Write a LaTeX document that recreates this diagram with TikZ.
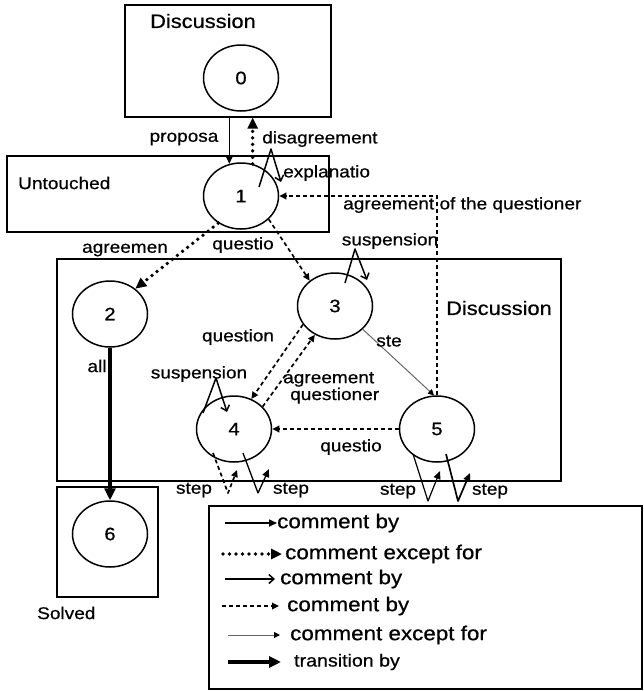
\documentclass[tikz,border=0pt]{standalone}
\usepackage{fontspec}
\setmainfont{Liberation Sans}[FakeStretch=1.12,FakeBold=0.6]
\usetikzlibrary{arrows.meta,shapes.geometric,calc}
\newcommand\lblfont{\fontsize{17}{19}\selectfont}
\newcommand\titlefont{\fontsize{19.5}{22}\selectfont}
\newcommand\numfont{\fontsize{18}{20}\selectfont}
\newcommand\legfont{\fontsize{20}{22}\selectfont}
\begin{document}
\begin{tikzpicture}[x=1pt,y=-1pt,
  state/.style={draw,ellipse,line width=1.5pt,minimum width=75pt,minimum height=66pt,inner sep=0pt,font=\numfont},
  area/.style={draw,line width=1.1pt,inner sep=0pt},
  lbl/.style={inner sep=0pt,font=\lblfont},
  ttl/.style={inner sep=0pt,anchor=west,font=\titlefont},
  legtxt/.style={inner sep=0pt,anchor=west,font=\legfont},
  cmt/.style={line width=1.6pt,-{Triangle[length=8pt,width=7pt]}},
  cmtb/.style={line width=1.5pt,line join=round,-{Straight Barb[length=5pt,width=9pt,line width=1.5pt]}},
  exc/.style={line width=3.8pt,line cap=round,dash pattern=on 0pt off 6.5pt,-{Triangle[length=11pt,width=10pt]}},
  dsh/.style={line width=1.7pt,dash pattern=on 4pt off 3pt,-{Triangle[length=7pt,width=6.5pt]}},
  thn/.style={line width=1pt,draw=black!60,-{Triangle[length=6pt,width=6pt,color=black]}},
  trn/.style={line width=4pt,-{Triangle[length=12pt,width=11pt]}},
]
\useasboundingbox (0,0) rectangle (644,691);

% group boxes
\node[area,minimum width=206pt,minimum height=112pt] (box0) at (228,61) {};
\node[area,minimum width=322pt,minimum height=76pt] (boxU) at (168,194) {};
\node[area,minimum width=504pt,minimum height=222pt] (boxD) at (309,370) {};
\node[area,minimum width=101pt,minimum height=110pt] (boxS) at (107.5,542) {};
\node[area,minimum width=433pt,minimum height=183pt] (boxL) at (425.5,597.5) {};

\node[ttl] (t0) at (150,21) {Discussion};
\node[ttl] (tD) at (446,308) {Discussion};
\node[lbl,anchor=west] (tU) at (18,183) {Untouched};
\node[lbl,anchor=west] (tS) at (37,613) {Solved};

% states
\node[state] (n0) at (241,78) {0};
\node[state] (n1) at (241,196) {1};
\node[state] (n2) at (110,314) {2};
\node[state] (n3) at (335,306) {3};
\node[state] (n4) at (234,429) {4};
\node[state] (n5) at (437,429) {5};
\node[state] (n6) at (110,534) {6};

% transitions
\draw[cmt] (box0.south -| n1.110) -- (n1.110);
\draw[exc] (n1.70) -- (box0.south -| n1.70);
\draw[cmtb] ($(n1)+(18,-9)$) -- ($(n1)+(30,-47)$) -- ($(n1)+(40,-14)$);
\draw[dsh] (n5.north) |- (n1.east);
\draw[exc] (n1.230) -- (n2.45);
\draw[dsh] (n1.-40) -- (n3.135);
\draw[cmtb] ($(n3)+(10,-23)$) -- ($(n3)+(20,-57)$) -- ($(n3)+(32,-26)$);
\draw[dsh] (n3.210) -- (n4.60);
\draw[dsh] (n4.38) -- (n3.-125);
\draw[cmtb] ($(n4)+(-31,-16)$) -- ($(n4)+(-18,-51)$) -- ($(n4)+(-7,-17)$);
\draw[dsh] (n5.west) -- (n4.east);
\draw[thn] (n3.-40) -- (n5.95);
\draw[trn] (n2.south) -- (n6.north);
\draw[dsh,line join=round] ($(n4)+(-21,24)$) -- ($(n4)+(-6,64)$) -- ($(n4)+(3,41)$);
\draw[cmt,line width=1.3pt,line join=round] ($(n4)+(9,24)$) -- ($(n4)+(24,64)$) -- ($(n4)+(35,40)$);
\draw[cmt,line width=1.2pt,line join=round] ($(n5)+(-24,25)$) -- ($(n5)+(-9,72)$) -- ($(n5)+(3,42)$);
\draw[cmt,line width=1.7pt,line join=round] ($(n5)+(9,25)$) -- ($(n5)+(21,72)$) -- ($(n5)+(33,44)$);

% transition labels
\node[lbl] (lp) at (184,139) {proposa};
\node[lbl,anchor=west] (ld) at (262,139) {disagreement};
\node[lbl,anchor=west] (le) at (283,173) {explanatio};
\node[lbl,anchor=west] (laq) at (343,205) {agreement of the questioner};
\node[lbl] (la) at (125,250) {agreemen};
\node[lbl] (lq1) at (243,245) {questio};
\node[lbl] (ls3) at (390,241) {suspension};
\node[lbl] (lq3) at (238,337) {question};
\node[lbl] (lst) at (389,341) {ste};
\node[lbl] (ls4) at (199,374) {suspension};
\node[lbl,anchor=north west,align=left,font=\fontsize{17}{14}\selectfont] (lag) at (283,372)
  {agreement\\\hspace*{7pt}questioner};
\node[lbl] (lq5) at (351,447) {questio};
\node[lbl] (lall) at (97,366) {all};
\node[lbl] (ls4a) at (194,490) {step};
\node[lbl] (ls4b) at (291,490) {step};
\node[lbl] (ls5a) at (398,491) {step};
\node[lbl] (ls5b) at (490,491) {step};

% legend
\node[legtxt] (g1) at (277,523) {comment by};
\node[legtxt] (g2) at (285,554) {comment except for};
\node[legtxt] (g3) at (280,579) {comment by};
\node[legtxt] (g4) at (287,606) {comment by};
\node[legtxt] (g5) at (290,635) {comment except for};
\node[legtxt,font=\fontsize{17.5}{20}\selectfont] (g6) at (294,662) {transition by};
\coordinate (a1) at (225,523);
\coordinate (a2) at (223,554);
\coordinate (a3) at (225,579);
\coordinate (a4) at (222,606);
\coordinate (a5) at (228,635);
\coordinate (a6) at (228,662);
\draw[cmt] (a1) -- (g1.west);
\draw[exc] (a2) -- ($(g2.west)+(-3,0)$);
\draw[cmtb] (a3) -- ($(g3.west)+(-5,0)$);
\draw[dsh] (a4) -- ($(g4.west)+(-8,0)$);
\draw[thn] (a5) -- ($(g5.west)+(-10,0)$);
\draw[trn] (a6) -- ($(g6.west)+(-13,0)$);
\end{tikzpicture}
\end{document}
